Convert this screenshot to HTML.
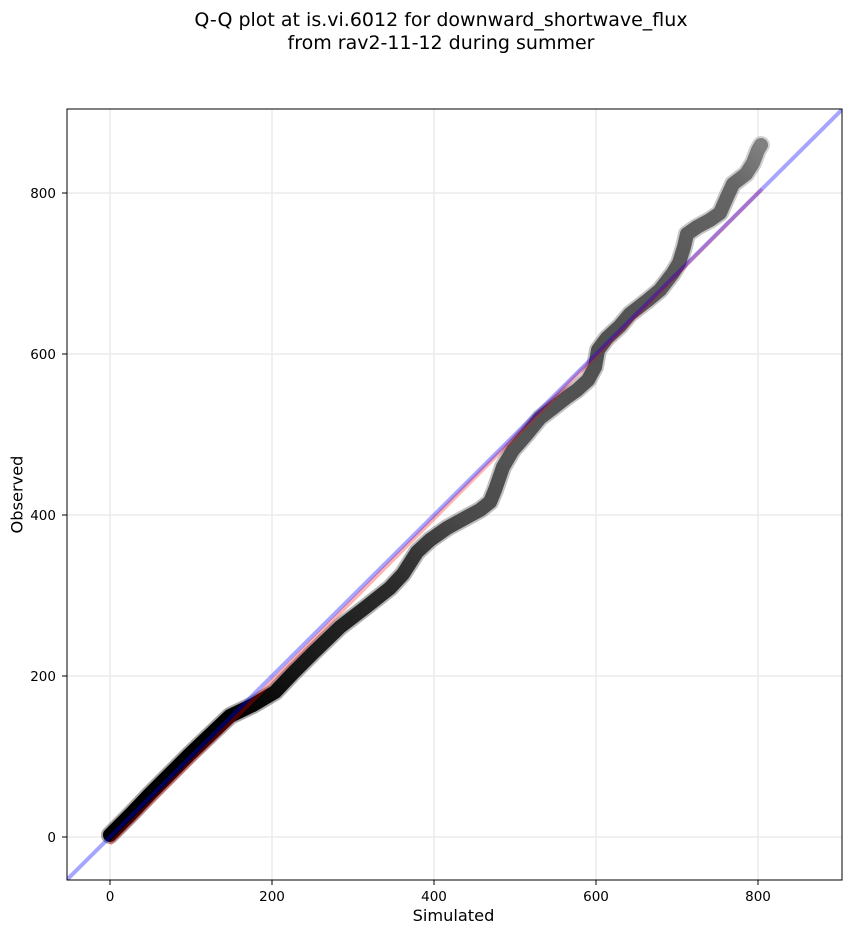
<!DOCTYPE html>
<html>
<head>
<meta charset="utf-8">
<style>
  html, body { margin: 0; padding: 0; background: #ffffff; }
  svg { display: block; }
  text { font-family: "DejaVu Sans", "Liberation Sans", sans-serif; fill: #000; }
</style>
</head>
<body>
<svg width="851" height="934" viewBox="0 0 851 934" xmlns="http://www.w3.org/2000/svg">
  <defs>
    <clipPath id="plot">
      <rect x="67" y="109" width="775" height="771"/>
    </clipPath>
    <linearGradient id="g" gradientUnits="userSpaceOnUse" x1="110" y1="835" x2="761" y2="145">
      <stop offset="0" stop-color="#000000"/>
      <stop offset="0.18" stop-color="#000000"/>
      <stop offset="0.27" stop-color="#181818"/>
      <stop offset="0.40" stop-color="#2c2c2c"/>
      <stop offset="0.50" stop-color="#4a4a4a"/>
      <stop offset="0.60" stop-color="#555555"/>
      <stop offset="0.73" stop-color="#505050"/>
      <stop offset="0.85" stop-color="#5a5a5a"/>
      <stop offset="0.95" stop-color="#666666"/>
      <stop offset="1" stop-color="#808080"/>
    </linearGradient>
  </defs>

  <rect x="0" y="0" width="851" height="934" fill="#ffffff"/>

  <!-- grid -->
  <g stroke="#ebebeb" stroke-width="1.5">
    <line x1="110" y1="109" x2="110" y2="880"/>
    <line x1="272" y1="109" x2="272" y2="880"/>
    <line x1="434" y1="109" x2="434" y2="880"/>
    <line x1="596" y1="109" x2="596" y2="880"/>
    <line x1="758" y1="109" x2="758" y2="880"/>
    <line x1="67" y1="837" x2="842" y2="837"/>
    <line x1="67" y1="676" x2="842" y2="676"/>
    <line x1="67" y1="515" x2="842" y2="515"/>
    <line x1="67" y1="354" x2="842" y2="354"/>
    <line x1="67" y1="193" x2="842" y2="193"/>
  </g>

  <g clip-path="url(#plot)">
    <path d="M110,835 L130,815 L150,794 L170,774 L190,754 L210,735 L230,716 L253,705 L275,692 L293,673 L313,653 L340,627 L366,607 L390,588 L403,574 L417,552 L430,540 L447,528 L467,517 L480,510 L490,502 L495,490 L503,467 L513,450 L527,434 L540,418 L553,408 L567,397 L577,390 L588,380 L595,367 L598,350 L607,338 L620,326 L630,314 L648,300 L660,290 L673,273 L679,263 L684,247 L687,234 L697,227 L710,220 L720,213 L727,197 L733,184 L746,174 L753,163 L758,150 L761,145"
      fill="none" stroke="url(#g)" stroke-width="18" stroke-linecap="round" stroke-linejoin="round" stroke-opacity="0.35"/>
    <path d="M110,835 L130,815 L150,794 L170,774 L190,754 L210,735 L230,716 L253,705 L275,692 L293,673 L313,653 L340,627 L366,607 L390,588 L403,574 L417,552 L430,540 L447,528 L467,517 L480,510 L490,502 L495,490 L503,467 L513,450 L527,434 L540,418 L553,408 L567,397 L577,390 L588,380 L595,367 L598,350 L607,338 L620,326 L630,314 L648,300 L660,290 L673,273 L679,263 L684,247 L687,234 L697,227 L710,220 L720,213 L727,197 L733,184 L746,174 L753,163 L758,150 L761,145"
      fill="none" stroke="url(#g)" stroke-width="14" stroke-linecap="round" stroke-linejoin="round"/>

    <line x1="110" y1="844" x2="762" y2="189" stroke="#ff0000" stroke-opacity="0.3" stroke-width="4"/>
    <line x1="67" y1="879.7" x2="842" y2="109.6" stroke="#0000ff" stroke-opacity="0.35" stroke-width="4"/>
  </g>

  <rect x="67" y="109" width="775" height="771" fill="none" stroke="#000" stroke-width="1"/>

  <g stroke="#000" stroke-width="1">
    <line x1="110" y1="880" x2="110" y2="885"/>
    <line x1="272" y1="880" x2="272" y2="885"/>
    <line x1="434" y1="880" x2="434" y2="885"/>
    <line x1="596" y1="880" x2="596" y2="885"/>
    <line x1="758" y1="880" x2="758" y2="885"/>
    <line x1="62" y1="837" x2="67" y2="837"/>
    <line x1="62" y1="676" x2="67" y2="676"/>
    <line x1="62" y1="515" x2="67" y2="515"/>
    <line x1="62" y1="354" x2="67" y2="354"/>
    <line x1="62" y1="193" x2="67" y2="193"/>
  </g>

  <g font-size="13.5" text-anchor="middle">
    <text x="110" y="901">0</text>
    <text x="272" y="901">200</text>
    <text x="434" y="901">400</text>
    <text x="596" y="901">600</text>
    <text x="758" y="901">800</text>
  </g>
  <g font-size="13.5" text-anchor="end">
    <text x="56" y="842">0</text>
    <text x="56" y="681">200</text>
    <text x="56" y="520">400</text>
    <text x="56" y="359">600</text>
    <text x="56" y="198">800</text>
  </g>

  <text x="453.5" y="921" font-size="16.2" text-anchor="middle">Simulated</text>
  <text x="0" y="0" font-size="16.2" text-anchor="middle" transform="translate(22.5,494.5) rotate(-90)">Observed</text>

  <text x="441" y="26" font-size="19" text-anchor="middle">Q-Q plot at is.vi.6012 for downward_shortwave_flux</text>
  <text x="441" y="49" font-size="19" text-anchor="middle">from rav2-11-12 during summer</text>
</svg>
</body>
</html>
